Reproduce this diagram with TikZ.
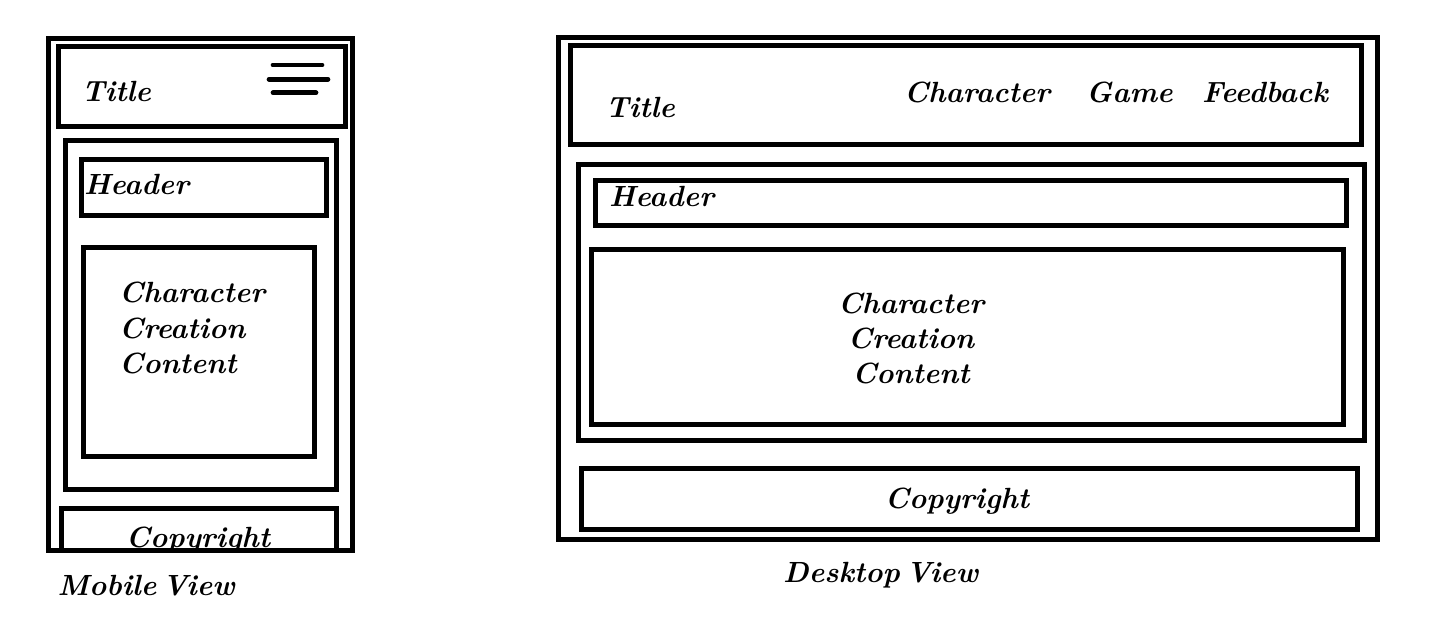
\documentclass[tikz,border=0pt]{standalone}
\usepackage{fontspec}
\begin{document}
\begin{tikzpicture}[x=1pt,y=-1pt,
  box/.style={draw=black,line width=5pt},
  lbl/.style={inner sep=0pt,font=\fontsize{29.2}{35.3}\selectfont\bfseries\itshape},
  burger/.style={line width=4.7pt,line cap=round}]
\useasboundingbox (0,0) rectangle (1449,643);
% ---------------- Mobile view ----------------
\draw[box] (48.5,38.5) rectangle (352.5,550.5);
\draw[box] (58.3,46.3) rectangle (345,126.3);
\node[lbl,anchor=base west] (mtitle) at (81.5,101) {Title};
\coordinate (b1a) at (273,65); \coordinate (b1b) at (322,65);
\coordinate (b2a) at (269,79.3); \coordinate (b2b) at (328,79.3);
\coordinate (b3a) at (273,92.7); \coordinate (b3b) at (316,92.7);
\draw[burger] (b1a) -- (b1b);
\draw[burger] (b2a) -- (b2b);
\draw[burger] (b3a) -- (b3b);
\draw[box] (65,140.8) rectangle (336.3,489);
\draw[box] (81.7,159) rectangle (326.3,215);
\node[lbl,anchor=base west] (mheader) at (84,194) {Header};
\draw[box] (83.7,247.5) rectangle (314.2,456.5);
\node[lbl,anchor=base west] (mcc1) at (119,302.7) {Character};
\node[lbl,anchor=base west] (mcc2) at (119,338) {Creation};
\node[lbl,anchor=base west] (mcc3) at (119,373.3) {Content};
\begin{scope}
  \clip (40,500) rectangle (360,547.5);
  \node[lbl,anchor=base] (mcopy) at (198,547.5) {Copyright};
\end{scope}
\draw[box] (61,508.3) rectangle (336,550.5);
\draw[box] (48.5,550.5) -- (352.5,550.5);
\node[lbl,anchor=base west] (mview) at (57.5,595) {Mobile\hspace{6pt}View};
% ---------------- Desktop view ----------------
\draw[box] (558.5,37.5) rectangle (1377.5,539.2);
\draw[box] (570.8,45.5) rectangle (1361,144.8);
\node[lbl,anchor=base west] (dtitle) at (605.5,117.5) {Title};
\node[lbl,anchor=base west] (dnav1) at (904,102.5) {Character};
\node[lbl,anchor=base west] (dnav2) at (1086,102.5) {Game};
\node[lbl,anchor=base west] (dnav3) at (1202,102.5) {Feedback};
\draw[box] (578.5,164.2) rectangle (1364.6,440.8);
\draw[box] (595.8,180.8) rectangle (1346.8,225.2);
\node[lbl,anchor=base west] (dheader) at (609,206) {Header};
\draw[box] (591.5,249.2) rectangle (1343.2,424.2);
\node[lbl,anchor=base] (dcc1) at (911,313) {Character};
\node[lbl,anchor=base] (dcc2) at (911,348.3) {Creation};
\node[lbl,anchor=base] (dcc3) at (911,383.6) {Content};
\draw[box] (581.5,468.5) rectangle (1357.5,529.2);
\node[lbl,anchor=base] (dcopy) at (957,508) {Copyright};
\node[lbl,anchor=base west] (dview) at (783,582) {Desktop\hspace{6pt}View};
\end{tikzpicture}
\end{document}
